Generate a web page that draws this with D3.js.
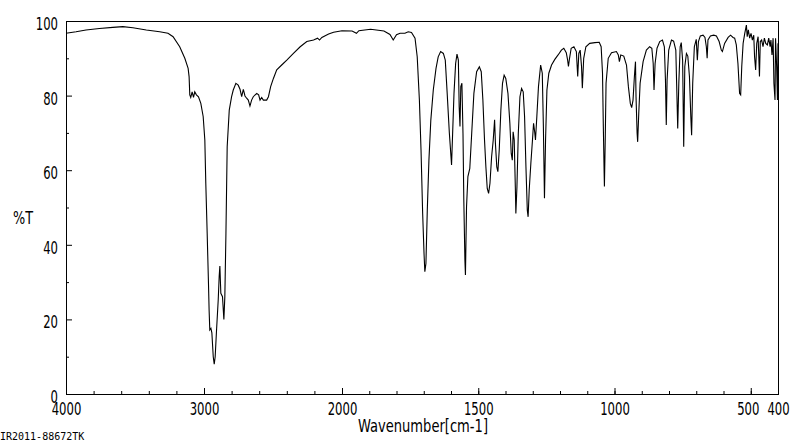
<!DOCTYPE html>
<html>
<head>
<meta charset="utf-8">
<script src="https://cdn.jsdelivr.net/npm/d3@7"></script>
<style>
  body { margin: 0; background: #fff; }
  svg { display: block; }
  .lbl { font-family: "Liberation Sans Narrow", "DejaVu Sans", sans-serif; font-stretch: condensed; font-size: 17px; fill: #000; }
</style>
</head>
<body>
<div id="chart"></div>
<script>
// spectrum: [wavenumber cm-1, %T]
var spectrum = [
  [4000,96.7],[3927,97.1],[3855,97.6],[3758,98.0],[3661,98.3],[3588,98.5],[3515,98.2],[3418,97.6],[3321,97.1],[3261,96.7],
  [3224,95.8],[3176,93.1],[3139,90.0],[3115,87.3],[3108,85.1],[3103,80.2],[3096,79.5],[3086,81.0],[3076,79.5],[3067,81.0],
  [3055,80.2],[3040,79.7],[3023,77.9],[3006,74.4],[2994,68.1],[2987,56.5],[2977,43.1],[2967,28.8],[2963,22.5],[2958,17.2],
  [2950,17.6],[2943,16.4],[2933,10.0],[2926,8.0],[2919,10.0],[2909,17.2],[2897,25.2],[2890,31.5],[2885,34.3],[2878,27.0],
  [2866,26.1],[2856,20.0],[2849,26.1],[2841,43.1],[2832,66.3],[2817,76.1],[2800,79.7],[2788,81.5],[2769,83.3],[2752,82.8],
  [2739,81.7],[2727,79.7],[2715,81.7],[2703,79.9],[2691,79.3],[2679,78.8],[2667,77.2],[2655,78.8],[2643,79.7],[2618,80.6],
  [2604,80.2],[2594,78.8],[2582,79.5],[2570,78.8],[2546,78.8],[2533,79.7],[2517,82.4],[2497,84.6],[2473,86.9],[2437,88.2],
  [2400,89.5],[2352,91.3],[2303,93.1],[2255,94.5],[2206,94.9],[2177,95.4],[2163,94.9],[2146,95.6],[2097,96.5],[2061,97.0],
  [2000,97.4],[1963,97.3],[1947,96.7],[1938,97.4],[1895,97.8],[1846,97.3],[1824,96.4],[1812,94.9],[1800,96.3],
  [1787,96.7],[1769,96.7],[1757,97.1],[1745,96.9],[1732,95.4],[1724,90.4],[1716,78.8],[1710,65.4],[1704,48.4],[1699,37.7],
  [1696,32.8],[1692,35.0],[1687,49.3],[1681,62.7],[1674,73.5],[1665,81.5],[1655,87.3],[1647,90.4],[1638,91.8],[1628,91.3],
  [1621,89.5],[1614,80.6],[1606,69.9],[1600,63.6],[1598,61.4],[1594,69.9],[1589,80.6],[1583,88.6],[1578,91.1],[1573,89.5],
  [1570,77.0],[1567,71.7],[1564,82.4],[1560,83.3],[1556,69.9],[1553,52.0],[1549,35.9],[1547,31.9],[1543,50.2],[1538,58.3],
  [1531,60.5],[1524,69.9],[1516,80.6],[1506,86.4],[1496,87.7],[1489,86.4],[1483,78.8],[1477,68.1],[1472,60.9],[1467,55.1],
  [1462,53.8],[1457,56.5],[1451,63.6],[1445,68.1],[1440,73.5],[1437,67.2],[1432,60.9],[1428,59.6],[1423,65.4],[1417,76.1],
  [1411,83.3],[1405,85.5],[1399,84.6],[1391,80.6],[1384,72.6],[1379,64.5],[1375,62.7],[1372,70.3],[1368,68.1],[1364,55.6],
  [1362,48.4],[1358,55.6],[1353,69.9],[1347,79.7],[1341,81.9],[1335,81.0],[1330,74.4],[1325,60.9],[1320,49.3],[1317,47.5],
  [1313,54.7],[1307,61.8],[1301,68.1],[1297,72.6],[1293,70.3],[1290,68.1],[1285,74.4],[1279,82.4],[1271,88.2],[1265,86.0],
  [1261,71.7],[1257,52.5],[1253,68.1],[1248,81.5],[1241,86.0],[1231,88.2],[1219,89.7],[1207,90.9],[1195,92.2],[1186,92.7],
  [1177,91.5],[1172,89.5],[1169,87.8],[1165,90.0],[1159,92.7],[1149,93.1],[1140,91.8],[1135,85.1],[1131,91.3],[1126,92.2],
  [1121,87.8],[1118,82.0],[1113,90.0],[1105,93.1],[1091,94.0],[1072,94.2],[1056,94.3],[1049,93.1],[1044,86.0],[1041,71.7],
  [1038,59.2],[1037,55.6],[1034,68.1],[1031,83.3],[1023,90.0],[1011,91.5],[993,91.8],[986,90.9],[982,89.1],[977,90.9],
  [966,90.6],[956,88.2],[949,82.4],[942,77.9],[937,76.8],[932,78.8],[927,85.1],[923,89.1],[921,79.7],[917,69.9],
  [915,67.6],[911,75.2],[906,83.3],[895,89.1],[883,92.2],[871,93.1],[863,92.7],[858,88.6],[855,81.5],[851,88.6],
  [844,92.7],[834,94.5],[824,94.9],[817,93.1],[813,84.2],[810,72.1],[807,84.2],[801,92.2],[791,94.9],[783,94.6],
  [775,92.2],[772,83.3],[768,71.2],[764,83.3],[759,93.1],[755,94.2],[750,89.5],[746,66.3],[742,87.8],[736,91.3],
  [731,90.6],[725,85.1],[720,74.4],[717,69.4],[713,83.3],[707,93.1],[700,95.1],[696,89.5],[692,94.5],[685,96.0],
  [675,96.2],[668,95.6],[663,93.1],[660,90.0],[657,94.9],[648,96.0],[636,96.2],[626,96.0],[616,94.5],[608,92.2],
  [604,91.8],[596,94.0],[583,95.6],[574,96.2],[565,95.6],[559,95.4],[553,93.6],[547,88.6],[541,80.6],[537,80.2],
  [533,87.8],[528,94.0],[522,96.7],[516,98.9],[513,95.8],[509,97.6],[504,95.4],[499,96.7],[494,94.9],[489,96.2],
  [486,90.4],[482,86.9],[478,94.0],[473,95.8],[468,85.1],[465,94.5],[460,94.9],[455,93.1],[450,95.4],[445,94.0],
  [439,93.6],[434,95.4],[429,93.1],[426,94.9],[422,90.9],[418,95.4],[415,83.3],[411,78.8],[409,95.4],[405,87.8],
  [402,78.8],[400,94.0]
];

// axis values
var xLabelTicks = [4000, 3000, 2000, 1500, 1000, 500, 400];
var xMinorHigh = d3.range(3800, 2000, -200);
var xMinorLow = d3.range(1900, 400, -100);
var yLabelTicks = [0, 20, 40, 60, 80, 100];
var yMinorTicks = d3.range(10, 100, 20);

var xTitle = "Wavenumber[cm-1]";
var yTitle = "%T";
var sampleId = "IR2011-88672TK";

var width = 800;
var height = 441;
var plot = { left: 66, right: 778, top: 21, bottom: 394 };
var digitW = 7.4; // narrow digits like the original plotter font

var svg = d3.select("#chart")
    .append("svg")
    .attr("width", width)
    .attr("height", height);

// the wavenumber axis has a 2x expanded scale below 2000
var x = d3.scaleLinear()
    .domain([4000, 2000, 400])
    .range([plot.left, 342, plot.right]);

var y = d3.scaleLinear()
    .domain([0, 100])
    .range([plot.bottom, plot.top]);

function narrow(sel) {
    sel.attr("class", "lbl")
        .attr("textLength", function (d) { return String(d).length * digitW; })
        .attr("lengthAdjust", "spacingAndGlyphs");
}

// minor ticks (inward)
var xMinorAxis = d3.axisBottom(x)
    .tickValues(xMinorHigh.concat(xMinorLow))
    .tickSize(-3)
    .tickFormat("");
svg.append("g")
    .attr("transform", "translate(0," + plot.bottom + ")")
    .call(xMinorAxis);

// major ticks + labels
var xAxis = d3.axisBottom(x)
    .tickValues(xLabelTicks)
    .tickSize(-6)
    .tickPadding(9)
    .tickFormat(d3.format("d"));
var gx = svg.append("g")
    .attr("transform", "translate(0," + plot.bottom + ")")
    .call(xAxis);
gx.attr("font-family", null).attr("font-size", null);
gx.selectAll("text").call(narrow)
    .attr("dx", function (d) { return d === 500 ? -3 : 0; });

var yMinorAxis = d3.axisLeft(y)
    .tickValues(yMinorTicks)
    .tickSize(-3)
    .tickFormat("");
svg.append("g")
    .attr("transform", "translate(" + plot.left + ",0)")
    .call(yMinorAxis);

var yAxis = d3.axisLeft(y)
    .tickValues(yLabelTicks)
    .tickSize(-6)
    .tickPadding(8)
    .tickFormat(d3.format("d"));
var gy = svg.append("g")
    .attr("transform", "translate(" + plot.left + ",0)")
    .call(yAxis);
gy.attr("font-family", null).attr("font-size", null);
gy.selectAll("text").call(narrow).attr("dy", "0.5em");

svg.selectAll(".domain").remove();

// frame
svg.append("rect")
    .attr("x", plot.left + 0.5)
    .attr("y", plot.top + 0.5)
    .attr("width", plot.right - plot.left)
    .attr("height", plot.bottom - plot.top)
    .attr("fill", "none")
    .attr("stroke", "#000")
    .attr("stroke-width", 1);

// spectrum line
svg.append("path")
    .datum(spectrum)
    .attr("fill", "none")
    .attr("stroke", "#000")
    .attr("stroke-width", 1.1)
    .attr("d", d3.line()
        .x(function (d) { return x(d[0]); })
        .y(function (d) { return y(d[1]); }));

// titles
svg.append("text")
    .attr("class", "lbl")
    .attr("x", 423)
    .attr("y", 432)
    .attr("text-anchor", "middle")
    .attr("textLength", 130)
    .attr("lengthAdjust", "spacingAndGlyphs")
    .text(xTitle);

svg.append("text")
    .attr("class", "lbl")
    .attr("x", 23)
    .attr("y", 224)
    .attr("text-anchor", "middle")
    .attr("textLength", 20)
    .attr("lengthAdjust", "spacingAndGlyphs")
    .text(yTitle);

svg.append("text")
    .attr("x", 0)
    .attr("y", 440)
    .attr("font-family", "DejaVu Sans Mono, monospace")
    .attr("font-size", 10)
    .text(sampleId);
</script>
</body>
</html>
